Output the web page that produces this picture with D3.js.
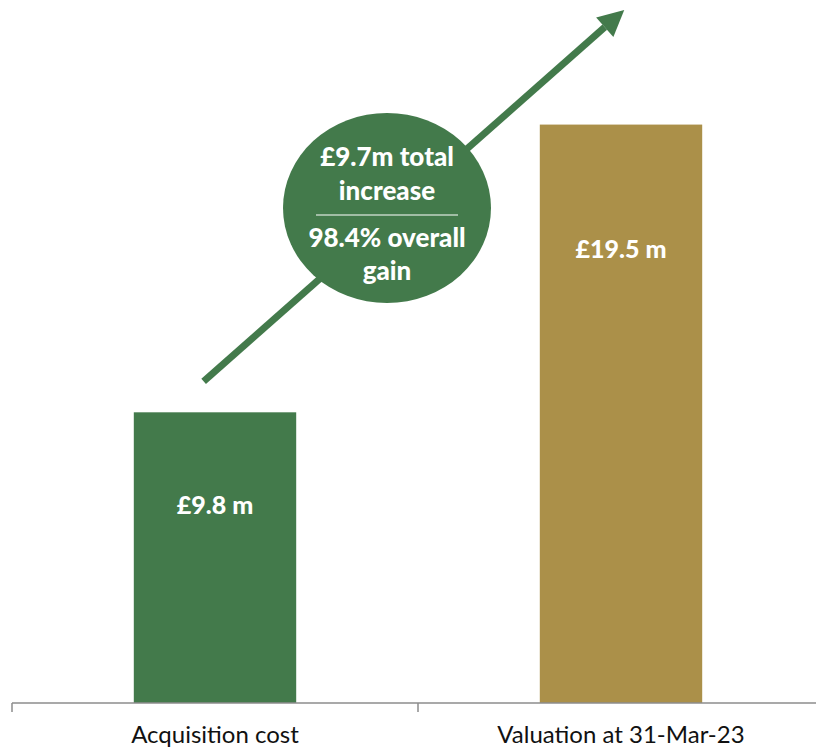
<!DOCTYPE html>
<html><head><meta charset="utf-8">
<script src="https://cdn.jsdelivr.net/npm/d3@7"></script>
<style>body{margin:0;background:#fff}svg{display:block}</style>
</head><body>
<svg id="chart" width="816" height="750"></svg>
<script>
const categories = ["Acquisition cost", "Valuation at 31-Mar-23"];
const values = [9.8, 19.5];
const barLabels = ["£9.8 m", "£19.5 m"];
const colors = ["#437A4B", "#AB9049"];
const bubbleLines = ["£9.7m total", "increase", "98.4% overall", "gain"];

const svg = d3.select("#chart");
const font = "Lato, 'Open Sans', sans-serif";
const x = d3.scaleBand().domain(categories).range([12, 824]).paddingInner(0.6).paddingOuter(0.3);
const y = d3.scaleLinear().domain([0, 23.7]).range([703, 0]);

// bars
svg.selectAll("rect.bar").data(values).join("rect")
  .attr("x", (d,i)=>x(categories[i]))
  .attr("y", d=>y(d))
  .attr("width", x.bandwidth())
  .attr("height", d=>y(0)-y(d))
  .attr("fill", (d,i)=>colors[i]);

// bar labels
const labelOffset = [102, 133];
svg.selectAll("text.bl").data(values).join("text")
  .attr("x", (d,i)=>x(categories[i])+x.bandwidth()/2)
  .attr("y", (d,i)=>y(d)+labelOffset[i])
  .attr("text-anchor","middle").attr("fill","#fff")
  .attr("font-family", font).attr("font-weight","900").attr("font-size", 25)
  .text((d,i)=>barLabels[i]);

// axis
const axisG = svg.append("g").attr("transform", `translate(0,${y(0)})`);
axisG.append("line").attr("x1",12).attr("x2",824).attr("stroke","#8c8c8c").attr("stroke-width",1.5);
const ticks = [12, 12+ (824-12)/2, 824];
axisG.selectAll("line.t").data(ticks).join("line")
  .attr("x1",d=>d).attr("x2",d=>d).attr("y1",0).attr("y2",9)
  .attr("stroke","#8c8c8c").attr("stroke-width",1.5);
svg.selectAll("text.cat").data(categories).join("text")
  .attr("x", d=>x(d)+x.bandwidth()/2)
  .attr("y", y(0)+40)
  .attr("text-anchor","middle").attr("fill","#111")
  .attr("font-family", font).attr("font-size", 24)
  .text(d=>d);

// arrow
const x0 = x(categories[0]) + x.bandwidth()*0.43, y0 = y(values[0]) - 31;
const x1 = x(categories[1]) + x.bandwidth()*0.52, y1 = 10;
const ang = Math.atan2(y1-y0, x1-x0);
const headLen = 26, headW = 13;
const bx = x1 - headLen*Math.cos(ang), by = y1 - headLen*Math.sin(ang);
svg.append("line").attr("x1",x0).attr("y1",y0).attr("x2",bx).attr("y2",by)
  .attr("stroke",colors[0]).attr("stroke-width",7);
const px = -Math.sin(ang), py = Math.cos(ang);
svg.append("path")
  .attr("d", `M${x1},${y1} L${bx+px*headW},${by+py*headW} L${bx-px*headW},${by-py*headW} Z`)
  .attr("fill", colors[0]);

// bubble
const cx = 387, cy = 208;
svg.append("ellipse").attr("cx",cx).attr("cy",cy).attr("rx",104).attr("ry",95).attr("fill",colors[0]);
const lineYs = [166, 200, 247, 280];
svg.selectAll("text.bub").data(bubbleLines).join("text")
  .attr("x", cx).attr("y", (d,i)=>lineYs[i])
  .attr("text-anchor","middle").attr("fill","#fff")
  .attr("font-family", font).attr("font-weight","900").attr("font-size", 26)
  .text(d=>d);
svg.append("line").attr("x1",316).attr("x2",458).attr("y1",215).attr("y2",215)
  .attr("stroke","#fff").attr("stroke-width",1.2);
</script>
</body></html>
